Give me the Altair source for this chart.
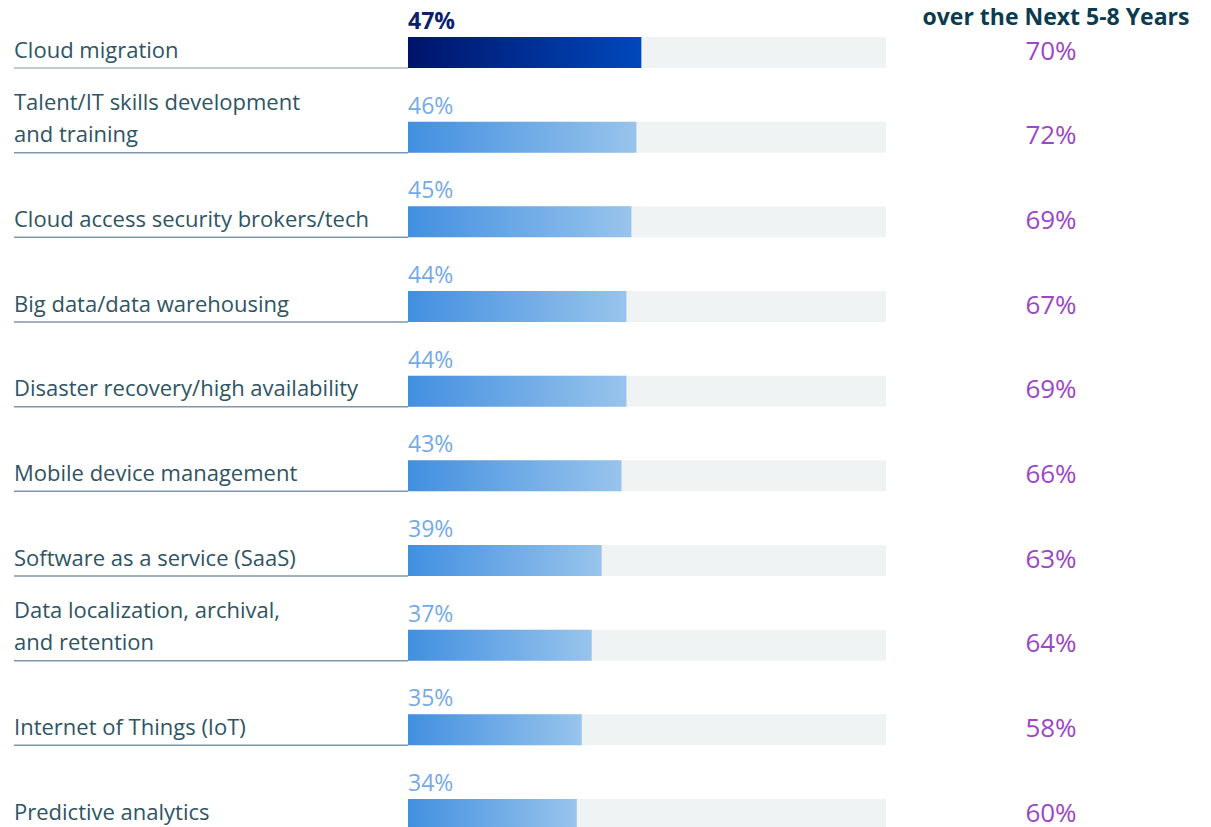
import altair as alt
import pandas as pd

categories = [
    "Cloud migration",
    "Talent/IT skills development\nand training",
    "Cloud access security brokers/tech",
    "Big data/data warehousing",
    "Disaster recovery/high availability",
    "Mobile device management",
    "Software as a service (SaaS)",
    "Data localization, archival,\nand retention",
    "Internet of Things (IoT)",
    "Predictive analytics",
]
current = [47, 46, 45, 44, 44, 43, 39, 37, 35, 34]
next_years = [70, 72, 69, 67, 69, 66, 63, 64, 58, 60]
highlight = [True] + [False] * 9
header_text = "over the Next 5-8 Years"

df = pd.DataFrame({
    "cat": categories,
    "cur": current,
    "nxt": next_years,
    "hl": highlight,
})
df["cur_lbl"] = df["cur"].astype(str) + "%"
df["nxt_lbl"] = df["nxt"].astype(str) + "%"
df["two"] = df["cat"].str.contains("\n")

order = categories
y = alt.Y("cat:N", sort=order, axis=None,
          scale=alt.Scale(type="point", domain=order, range=[44.5, 806.5], padding=0))
xs = alt.Scale(domain=[0, 100], range=[400, 896.5])

base = alt.Chart(df)

track = base.mark_bar(height=31, color="#f0f3f4").encode(
    y=y, x=alt.value(400), x2=alt.value(878))

grad_hl = alt.Gradient(gradient="linear",
                       stops=[alt.GradientStop(color="#00146a", offset=0),
                              alt.GradientStop(color="#0048bc", offset=1)],
                       x1=0, x2=1, y1=0, y2=0)
grad = alt.Gradient(gradient="linear",
                    stops=[alt.GradientStop(color="#428fe0", offset=0),
                           alt.GradientStop(color="#98c4ec", offset=1)],
                    x1=0, x2=1, y1=0, y2=0)

bars_hl = base.transform_filter("datum.hl").mark_bar(height=31, color=grad_hl).encode(
    y=y, x=alt.X("cur:Q", scale=xs, axis=None), x2=alt.datum(0))
bars = base.transform_filter("!datum.hl").mark_bar(height=31, color=grad).encode(
    y=y, x=alt.X("cur:Q", scale=xs, axis=None), x2=alt.datum(0))

under_hl = base.transform_filter("datum.hl").mark_rule(color="#bfcbd7", strokeWidth=2, yOffset=15.5).encode(
    y=y, x=alt.value(6), x2=alt.value(400))
under = base.transform_filter("!datum.hl").mark_rule(color="#7e97ae", strokeWidth=1.5, yOffset=15.5).encode(
    y=y, x=alt.value(6), x2=alt.value(400))

labels1 = base.transform_filter("!datum.two").mark_text(
    align="left", baseline="bottom", dy=10, fontSize=22,
    font="Open Sans", color="#2f5464").encode(
    y=y, x=alt.value(6), text="cat:N")
labels2 = base.transform_filter("datum.two").mark_text(
    align="left", baseline="bottom", dy=10 - 32, fontSize=22,
    font="Open Sans", color="#2f5464", lineBreak="\n", lineHeight=32).encode(
    y=y, x=alt.value(6), text="cat:N")

val_hl = base.transform_filter("datum.hl").mark_text(
    align="left", baseline="alphabetic", dy=-23.5, fontSize=23, fontWeight="bold",
    font="Open Sans", color="#0b1f6c").encode(
    y=y, x=alt.value(400), text="cur_lbl:N")
val = base.transform_filter("!datum.hl").mark_text(
    align="left", baseline="alphabetic", dy=-23.5, fontSize=23,
    font="Open Sans", color="#74aae6").encode(
    y=y, x=alt.value(400), text="cur_lbl:N")

nxt = base.mark_text(align="center", baseline="middle", dy=-1, fontSize=26,
                     font="Open Sans", color="#9b47c6").encode(
    y=y, x=alt.value(1043), text="nxt_lbl:N")

header = alt.Chart(pd.DataFrame({"t": [header_text]})).mark_text(
    align="center", baseline="alphabetic", fontSize=23, fontWeight="bold",
    font="Open Sans", color="#0b3b4f").encode(
    x=alt.value(1048), y=alt.value(17), text="t:N")

chart = alt.layer(track, bars_hl, bars, under_hl, under, labels1, labels2,
                  val_hl, val, nxt, header).properties(
    width=1195, height=819,
    autosize=alt.AutoSizeParams(type="none"),
    padding=0,
    background="white",
).configure_view(stroke=None, strokeWidth=0)

chart.save("out.html", embed_options={"renderer": "svg", "actions": False})
